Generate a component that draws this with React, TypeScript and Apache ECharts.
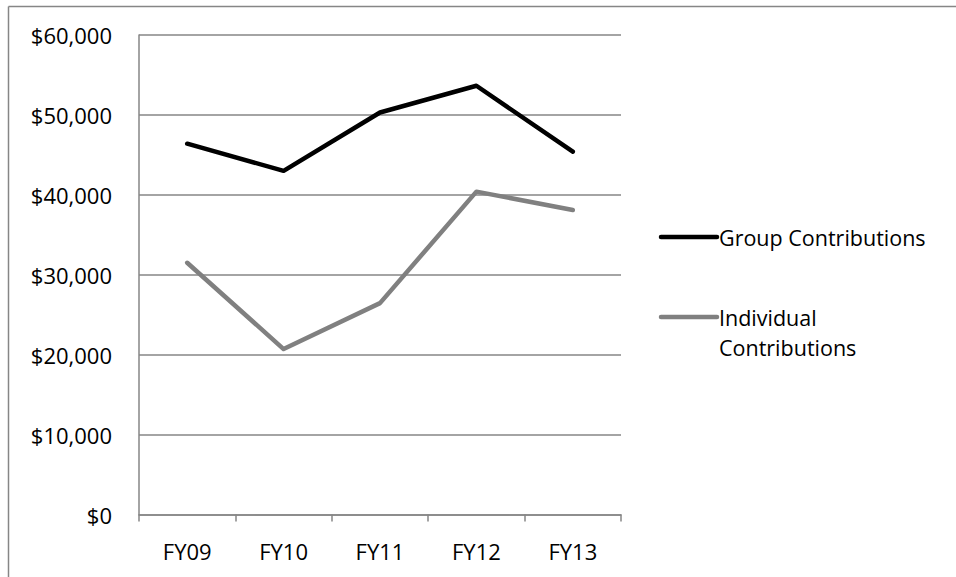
import React, { useEffect, useRef } from "react";
import * as echarts from "echarts";

const categories = ["FY09", "FY10", "FY11", "FY12", "FY13"];
const groupContributions = [46400, 43000, 50300, 53650, 45400];
const individualContributions = [31500, 20700, 26450, 40400, 38100];
const seriesNames = ["Group Contributions", "Individual Contributions"];
const legendLabels = ["Group Contributions", "Individual\nContributions"];

const FONT = "'Open Sans', Lato, sans-serif";
const FS = 22;
const LEGEND_FS = 21.5;
const LEGEND_LH = 30;
const GRID_COLOR = "#868686";

export default function App() {
  const ref = useRef<HTMLDivElement>(null);
  useEffect(() => {
    if (!ref.current) return;
    const chart = echarts.init(ref.current, null, { renderer: "svg" });
    chart.setOption({
      animation: false,
      backgroundColor: "#ffffff",
      textStyle: { fontFamily: FONT },
      grid: { left: 139, top: 35, right: 335, bottom: 62.5, containLabel: false },
      xAxis: {
        type: "category",
        data: categories,
        boundaryGap: true,
        axisLine: { show: true, lineStyle: { color: GRID_COLOR, width: 1.5 } },
        axisTick: { show: true, length: 7, lineStyle: { color: GRID_COLOR, width: 1.5 } },
        axisLabel: { color: "#000", fontSize: FS, fontFamily: FONT, margin: 25 },
        splitLine: { show: false },
      },
      yAxis: {
        type: "value",
        min: 0,
        max: 60000,
        interval: 10000,
        axisLine: { show: true, lineStyle: { color: GRID_COLOR, width: 1.5 } },
        axisTick: { show: false },
        axisLabel: {
          color: "#000",
          fontSize: FS,
          fontFamily: FONT,
          margin: 27,
          formatter: (v: number) => "$" + v.toLocaleString("en-US"),
        },
        splitLine: { show: true, lineStyle: { color: GRID_COLOR, width: 1.5 } },
      },
      series: [
        {
          name: seriesNames[0],
          type: "line",
          data: groupContributions,
          symbol: "none",
          lineStyle: { color: "#000000", width: 4.5, cap: "round", join: "round" },
          itemStyle: { color: "#000000" },
        },
        {
          name: seriesNames[1],
          type: "line",
          data: individualContributions,
          symbol: "none",
          lineStyle: { color: "#808080", width: 4.5, cap: "round", join: "round" },
          itemStyle: { color: "#808080" },
        },
      ],
      graphic: [
        { type: "line", shape: { x1: 8.5, y1: 6.5, x2: 956, y2: 6.5 }, style: { stroke: GRID_COLOR, lineWidth: 1.5 } },
        { type: "line", shape: { x1: 8.5, y1: 6.5, x2: 8.5, y2: 577 }, style: { stroke: GRID_COLOR, lineWidth: 1.5 } },
        { type: "line", shape: { x1: 661, y1: 237, x2: 717, y2: 237 }, style: { stroke: "#000000", lineWidth: 4.5, lineCap: "round" } },
        {
          type: "text",
          x: 719,
          y: 237 - LEGEND_LH / 2,
          style: { text: legendLabels[0], fill: "#000", font: `${LEGEND_FS}px ${FONT}`, lineHeight: LEGEND_LH, verticalAlign: "top", align: "left" },
        },
        { type: "line", shape: { x1: 661, y1: 317, x2: 717, y2: 317 }, style: { stroke: "#808080", lineWidth: 4.5, lineCap: "round" } },
        {
          type: "text",
          x: 719,
          y: 317 - LEGEND_LH / 2,
          style: { text: legendLabels[1], fill: "#000", font: `${LEGEND_FS}px ${FONT}`, lineHeight: LEGEND_LH, verticalAlign: "top", align: "left" },
        },
      ],
    });
    return () => chart.dispose();
  }, []);
  return (
    <div
      ref={ref}
      style={{ position: "absolute", left: 0, top: 0, width: 956, height: 577, background: "#fff" }}
    />
  );
}
